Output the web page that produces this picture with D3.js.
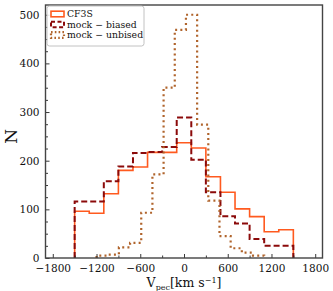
<!DOCTYPE html>
<html><head><meta charset="utf-8">
<script src="https://cdn.jsdelivr.net/npm/d3@7"></script>
<style>body{margin:0;background:#fff}svg{display:block}</style>
</head><body><svg id="c" width="333" height="291"></svg>
<script>
// ---- data ----
const seriesNames = ["CF3S", "mock \u2212 biased", "mock \u2212 unbised"];
const cf3sRange = [-1500, 1500];
const biasedRange = [-1500, 1500];
const unbiasedRange = [-1200, 1100];
const cf3s = [96, 92, 132, 180, 187, 217, 217, 237, 226, 167, 135, 101, 85, 54, 58];
const biased = [116, 116, 158, 188, 216, 218, 228, 289, 202, 135, 86, 71, 39, 25, 25];
const unbiased = [5, 7, 22, 31, 93, 172, 350, 469, 500, 274, 118, 45, 20, 11, 5];
const xTicks = [-1800, -1200, -600, 0, 600, 1200, 1800];
const yTicks = [0, 100, 200, 300, 400, 500];

const W = 333, H = 291;
const m = {l: 45.5, r: 10.5, t: 5, b: 33};
const x = d3.scaleLinear().domain([-1900, 1900]).range([m.l, W - m.r]);
const y = d3.scaleLinear().domain([0, 520]).range([H - m.b, m.t]);
const svg = d3.select("#c");
const font = "'DejaVu Serif', serif";

function stepPts(range, vals) {
  const n = vals.length, w = (range[1] - range[0]) / n;
  const pts = [[range[0], 0]];
  vals.forEach((v, i) => { pts.push([range[0] + i * w, v]); pts.push([range[0] + (i + 1) * w, v]); });
  pts.push([range[1], 0]);
  return pts;
}
const line = d3.line().x(d => x(d[0])).y(d => y(d[1]));
const styles = [
  {color: "#ff5a1f", width: 1.6, dash: null},
  {color: "#8b0a0a", width: 2, dash: "6,3"},
  {color: "#b0642c", width: 2.2, dash: "2,3.2"}
];
const data = [[cf3sRange, cf3s], [biasedRange, biased], [unbiasedRange, unbiased]];

const g = svg.append("g");
data.forEach((d, i) => {
  g.append("path").attr("d", line(stepPts(d[0], d[1])))
    .attr("fill", "none").attr("stroke", styles[i].color)
    .attr("stroke-width", styles[i].width)
    .attr("stroke-dasharray", styles[i].dash)
    .attr("stroke-linejoin", "miter");
});

// axes
const xAxis = d3.axisBottom(x).tickValues(xTicks).tickSizeInner(-4).tickSizeOuter(0)
  .tickFormat(d => d < 0 ? "\u2212" + Math.abs(d) : d).tickPadding(7);
const xMinor = d3.axisBottom(x).tickValues(d3.range(-1800, 1801, 300).filter(v => v % 600 !== 0)).tickSizeInner(-2.5).tickSizeOuter(0).tickFormat("");
const yAxis = d3.axisLeft(y).tickValues(yTicks).tickSizeInner(-4).tickSizeOuter(0).tickPadding(6);
const yMinor = d3.axisLeft(y).tickValues(d3.range(0, 520, 25).filter(v => v % 100 !== 0)).tickSizeInner(-2.5).tickSizeOuter(0).tickFormat("");

[[xAxis, "x"], [xMinor, "x"], [yAxis, "y"], [yMinor, "y"]].forEach(([ax, t]) => {
  const a = svg.append("g").attr("transform", t === "x" ? `translate(0,${H - m.b})` : `translate(${m.l},0)`).call(ax);
  a.select(".domain").remove();
  a.selectAll("line").attr("stroke", "#222").attr("stroke-width", 0.9);
  a.selectAll("text").attr("font-family", font).attr("font-size", 10.5).attr("fill", "#111");
});

// frame
svg.append("rect").attr("x", m.l).attr("y", m.t).attr("width", W - m.r - m.l).attr("height", H - m.b - m.t)
  .attr("fill", "none").attr("stroke", "#444").attr("stroke-width", 1.4);

// axis labels
const xl = svg.append("text").attr("x", x(0)).attr("y", 287).attr("text-anchor", "middle")
  .attr("font-family", font).attr("font-size", 12.5).attr("fill", "#111");
xl.append("tspan").text("V");
xl.append("tspan").attr("font-size", 8).attr("dy", 2.5).text("pec");
xl.append("tspan").attr("dy", -2.5).text("[km s");
xl.append("tspan").attr("font-size", 8).attr("dy", -4.5).text("\u22121");
xl.append("tspan").attr("dy", 4.5).text("]");

svg.append("text").attr("transform", `translate(17,${y(250)}) rotate(-90)`).attr("text-anchor", "middle")
  .attr("font-family", font).attr("font-size", 17).attr("fill", "#111").text("N");

// legend
const lg = svg.append("g");
lg.append("rect").attr("x", 47).attr("y", 6).attr("width", 97).attr("height", 40).attr("rx", 2.5)
  .attr("fill", "#fff").attr("fill-opacity", 0.85).attr("stroke", "#bbb").attr("stroke-width", 0.9);
seriesNames.forEach((name, i) => {
  const cy = 14 + i * 10.5;
  lg.append("rect").attr("x", 51).attr("y", cy - 2.8).attr("width", 13).attr("height", 5.6)
    .attr("fill", "none").attr("stroke", styles[i].color).attr("stroke-width", styles[i].width)
    .attr("stroke-dasharray", styles[i].dash ? (i === 1 ? "4,2.5" : "1.6,2.2") : null);
  lg.append("text").attr("x", 67).attr("y", cy + 3.2).attr("font-family", font).attr("font-size", 9.3)
    .attr("fill", "#111").text(name);
});
</script></body></html>
